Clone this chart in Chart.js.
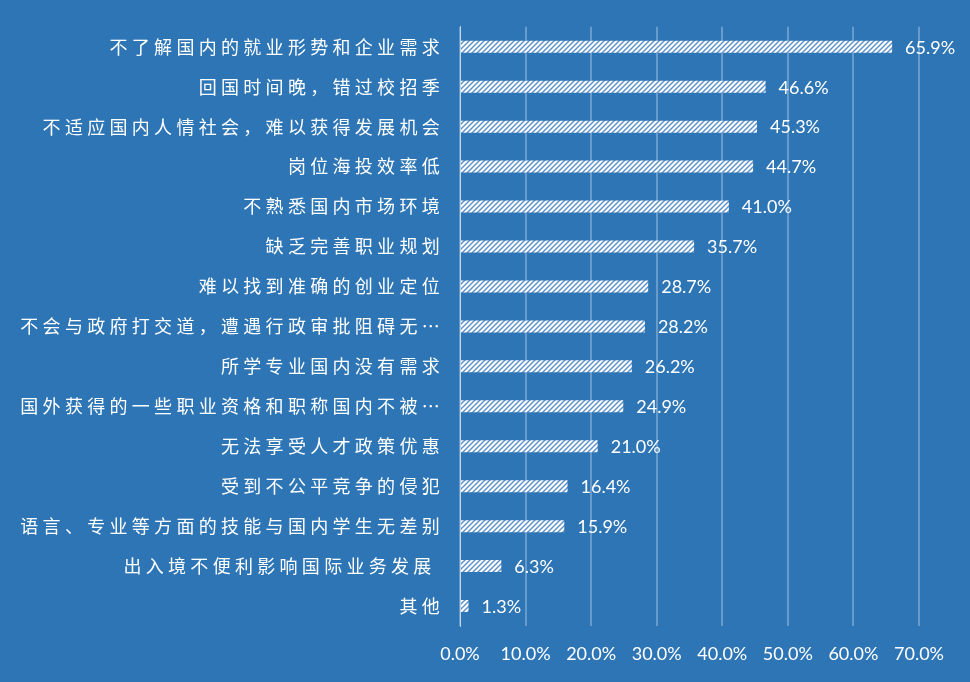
<!DOCTYPE html>
<html>
<head>
<meta charset="utf-8">
<script src="https://cdn.jsdelivr.net/npm/chart.js@4/dist/chart.umd.min.js"></script>
<style>
  html, body { margin: 0; padding: 0; background: #2E75B6; }
  #wrap { width: 970px; height: 682px; }
</style>
</head>
<body>
<div id="wrap"><canvas id="c"></canvas></div>
<script>
const categories = [
  "不了解国内的就业形势和企业需求",
  "回国时间晚，错过校招季",
  "不适应国内人情社会，难以获得发展机会",
  "岗位海投效率低",
  "不熟悉国内市场环境",
  "缺乏完善职业规划",
  "难以找到准确的创业定位",
  "不会与政府打交道，遭遇行政审批阻碍无…",
  "所学专业国内没有需求",
  "国外获得的一些职业资格和职称国内不被…",
  "无法享受人才政策优惠",
  "受到不公平竞争的侵犯",
  "语言、专业等方面的技能与国内学生无差别",
  "出入境不便利影响国际业务发展 ",
  "其他"
];
const values = [65.9, 46.6, 45.3, 44.7, 41.0, 35.7, 28.7, 28.2, 26.2, 24.9, 21.0, 16.4, 15.9, 6.3, 1.3];
const xTicks = [0, 10, 20, 30, 40, 50, 60, 70];

// white bars with thin blue upward diagonal hatching
function hatch() {
  const s = 5;
  const t = document.createElement('canvas');
  t.width = s; t.height = s;
  const g = t.getContext('2d');
  g.fillStyle = '#ffffff';
  g.fillRect(0, 0, s, s);
  g.strokeStyle = '#5a8fc8';
  g.lineWidth = 1.4;
  g.beginPath();
  g.moveTo(0, s); g.lineTo(s, 0);
  g.moveTo(-1, 1); g.lineTo(1, -1);
  g.moveTo(s - 1, s + 1); g.lineTo(s + 1, s - 1);
  g.stroke();
  return g.createPattern(t, 'repeat');
}

// spaced-out category labels (x labels are drawn later, after reset)
const spacing = {
  id: 'spacing',
  beforeDraw(chart) { chart.ctx.letterSpacing = '4.3px'; },
  beforeDatasetsDraw(chart) { chart.ctx.letterSpacing = '0px'; }
};

const valueLabels = {
  id: 'valueLabels',
  afterDatasetsDraw(chart) {
    const ctx = chart.ctx;
    const meta = chart.getDatasetMeta(0);
    ctx.save();
    ctx.letterSpacing = '0px';
    ctx.font = '18px Lato, "Liberation Sans", sans-serif';
    ctx.fillStyle = '#ffffff';
    ctx.textAlign = 'left';
    ctx.textBaseline = 'middle';
    meta.data.forEach((bar, i) => {
      ctx.fillText(values[i].toFixed(1) + '%', bar.x + 13, bar.y + 1);
    });
    ctx.restore();
  }
};

new Chart(document.getElementById('c'), {
  type: 'bar',
  data: {
    labels: categories,
    datasets: [{
      data: values,
      backgroundColor: hatch(),
      borderWidth: 0,
      barPercentage: 0.3,
      categoryPercentage: 1.0
    }]
  },
  options: {
    indexAxis: 'y',
    responsive: true,
    maintainAspectRatio: false,
    animation: false,
    layout: { padding: { top: 24, right: 51, bottom: 0, left: 0 } },
    plugins: { legend: { display: false }, tooltip: { enabled: false } },
    scales: {
      x: {
        min: 0,
        max: 70,
        afterBuildTicks(scale) { scale.ticks = xTicks.map(v => ({ value: v })); },
        afterFit(scale) { scale.height = 56; },
        grid: { color: 'rgba(255,255,255,0.28)', lineWidth: 2, drawTicks: false },
        border: { display: false },
        ticks: {
          z: 1,
          padding: 17,
          color: '#ffffff',
          font: { family: 'Lato, "Liberation Sans", sans-serif', size: 18 },
          callback: v => v.toFixed(1) + '%'
        }
      },
      y: {
        afterFit(scale) { scale.width = 460; },
        grid: { display: false, drawTicks: false },
        border: { display: true, color: 'rgba(255,255,255,0.6)', width: 1 },
        ticks: {
          padding: 16,
          autoSkip: false,
          color: '#ffffff',
          font: { family: '"Noto Sans CJK SC", sans-serif', size: 18 }
        }
      }
    }
  },
  plugins: [spacing, valueLabels]
});
</script>
</body>
</html>
